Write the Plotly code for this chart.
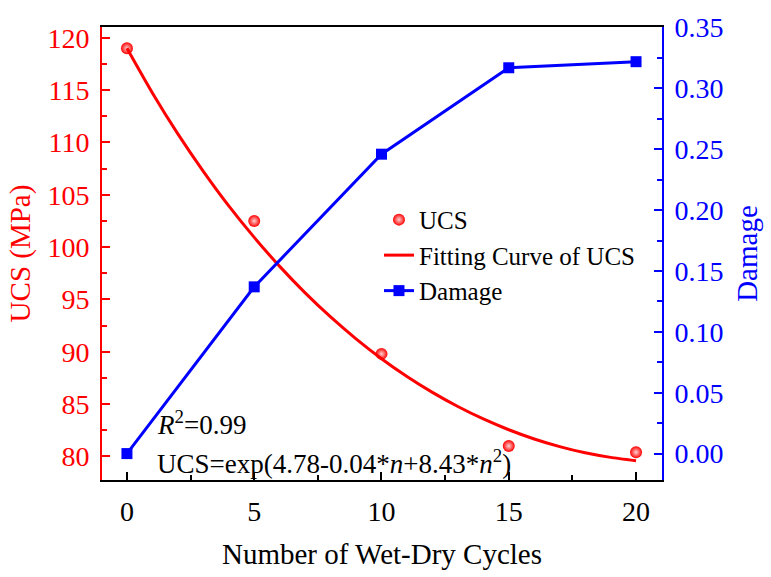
import plotly.graph_objects as go

cycles = [0, 5, 10, 15, 20]
ucs = [119.0, 102.5, 89.8, 81.0, 80.4]
damage = [0.0, 0.137, 0.246, 0.317, 0.322]

fit_x = [0, 1, 2, 3, 4, 5, 6, 7, 8, 9, 10, 11, 12, 13, 14, 15, 16, 17, 18, 19, 20]
fit_y = [119.00, 114.73, 110.82, 107.24, 103.94, 100.93, 98.16, 95.63, 93.33, 91.24,
         89.34, 87.64, 86.12, 84.77, 83.58, 82.55, 81.67, 80.94, 80.35, 79.91, 79.60]

FONT = "Liberation Serif, Times New Roman, serif"

fig = go.Figure()
fig.add_trace(go.Scatter(
    x=cycles, y=ucs, mode="markers", name="UCS",
    marker=dict(symbol="circle", size=12, color="#ff0000",
                gradient=dict(type="radial", color="#ffd0d0")),
    yaxis="y"))
fig.add_trace(go.Scatter(
    x=fit_x, y=fit_y, mode="lines", name="Fitting Curve of UCS",
    line=dict(color="#ff0000", width=3, shape="spline", smoothing=0.6), yaxis="y"))
fig.add_trace(go.Scatter(
    x=cycles, y=damage, mode="lines+markers", name="Damage",
    line=dict(color="#0000ff", width=3),
    marker=dict(symbol="square", size=11, color="#0000ff"),
    yaxis="y2"))

fig.update_layout(
    width=771, height=577,
    margin=dict(l=102, r=109, t=20, b=95),
    paper_bgcolor="white", plot_bgcolor="white",
    font=dict(family=FONT, size=24, color="black"),
    showlegend=True,
    legend=dict(x=0.4946, y=0.625, xanchor="left", yanchor="top",
                bgcolor="rgba(0,0,0,0)", font=dict(size=25, family=FONT, color="black"),
                tracegroupgap=0),
    xaxis=dict(range=[-0.98, 21.02], tickvals=[0, 5, 10, 15, 20],
               showline=True, linecolor="black", linewidth=2, mirror=True,
               ticks="inside", ticklen=8, tickwidth=2, tickcolor="black",
               minor=dict(tickvals=[2.5, 7.5, 12.5, 17.5], ticks="inside",
                          ticklen=5, tickwidth=2, tickcolor="black"),
               showgrid=False, zeroline=False, ticklabelstandoff=5,
               tickfont=dict(size=28, family=FONT, color="black"),
               title=dict(text="Number of Wet-Dry Cycles",
                          font=dict(size=29, family=FONT, color="black"), standoff=18)),
    yaxis=dict(range=[77.75, 121.03], tickvals=[80, 85, 90, 95, 100, 105, 110, 115, 120],
               showline=True, linecolor="#ff0000", linewidth=2,
               ticks="inside", ticklen=8, tickwidth=2, tickcolor="#ff0000",
               minor=dict(tickvals=[82.5, 87.5, 92.5, 97.5, 102.5, 107.5, 112.5, 117.5],
                          ticks="inside", ticklen=5, tickwidth=2, tickcolor="#ff0000"),
               showgrid=False, zeroline=False, ticklabelstandoff=5,
               tickfont=dict(size=28, color="#ff0000", family=FONT),
               title=dict(text="UCS (MPa)", font=dict(size=29, color="#ff0000", family=FONT),
                          standoff=8)),
    yaxis2=dict(range=[-0.0217, 0.3505], overlaying="y", side="right",
                tickvals=[0, 0.05, 0.10, 0.15, 0.20, 0.25, 0.30, 0.35],
                tickformat=".2f",
                showline=True, linecolor="#0000ff", linewidth=2,
                ticks="inside", ticklen=8, tickwidth=2, tickcolor="#0000ff",
                minor=dict(tickvals=[0.025, 0.075, 0.125, 0.175, 0.225, 0.275, 0.325],
                           ticks="inside", ticklen=5, tickwidth=2, tickcolor="#0000ff"),
                showgrid=False, zeroline=False, ticklabelstandoff=5,
                tickfont=dict(size=28, color="#0000ff", family=FONT),
                title=dict(text="Damage", font=dict(size=29, color="#0000ff", family=FONT),
                           standoff=14)),
    annotations=[
        dict(text="<i>R</i><sup>2</sup>=0.99", xref="paper", yref="paper",
             x=0.095, y=0.1255, xanchor="left", yanchor="middle", showarrow=False,
             font=dict(size=27, family=FONT, color="black")),
        dict(text="UCS=exp(4.78-0.04*<i>n</i>+8.43*<i>n</i><sup>2</sup>)",
             xref="paper", yref="paper", x=0.095, y=0.039, xanchor="left",
             yanchor="middle", showarrow=False,
             font=dict(size=27, family=FONT, color="black")),
    ],
)

fig.write_html("out.html")
